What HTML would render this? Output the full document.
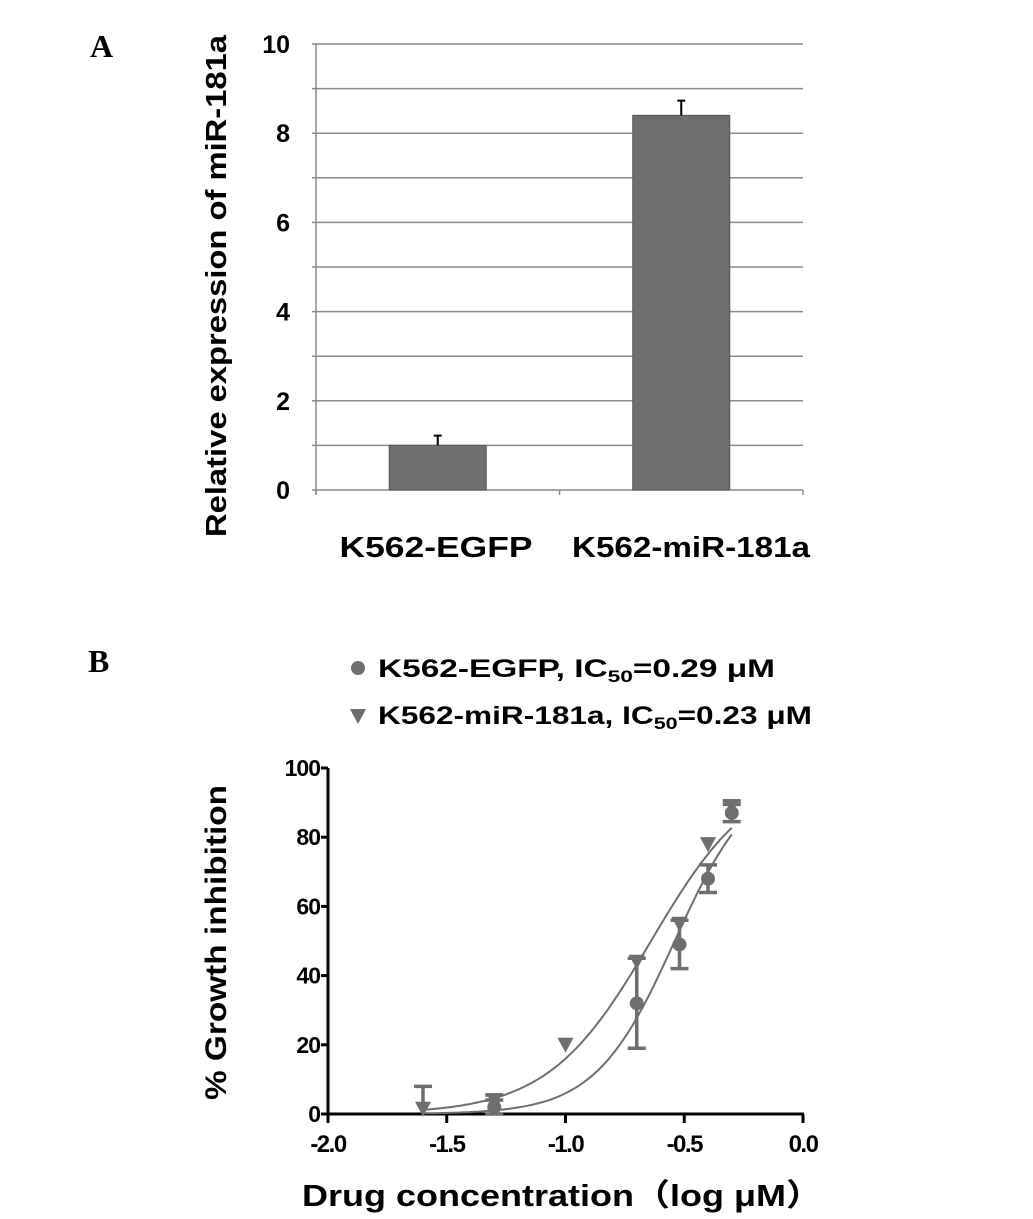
<!DOCTYPE html>
<html><head><meta charset="utf-8"><style>
body{margin:0;background:#fff;}
svg{display:block;font-family:"Liberation Sans",Arial,sans-serif;}
</style></head><body>
<svg id="s" width="1033" height="1219" viewBox="0 0 1033 1219" xmlns="http://www.w3.org/2000/svg">
<text x="90" y="57" font-family="Liberation Serif,serif" font-weight="bold" font-size="32">A</text>
<text x="88" y="672" font-family="Liberation Serif,serif" font-weight="bold" font-size="32">B</text>
<g id="ga"></g>
<g id="gb"></g>
</svg>
<script>
const barCategories=["K562-EGFP","K562-miR-181a"];
const barValues=[1.0,8.4];
const barErrors=[0.22,0.33];
const aTicks=[0,2,4,6,8,10];

const egfpX=[-1.3,-0.7,-0.52,-0.4,-0.3];
const egfpY=[2,32,49,68,87];
const egfpErr=[2,13,7,4,2.5];
const mirX=[-1.6,-1.3,-1.0,-0.7,-0.52,-0.4,-0.3];
const mirY=[1.5,4,20,44,55,78,89];
const mirErr=[6.5,1.5,0,0,0,0,1.5];
const fitLogIC50=[-0.54,-0.64];
const fitHill=[2.6,2.0];
const bXTicks=[-2.0,-1.5,-1.0,-0.5,0.0];
const bYTicks=[0,20,40,60,80,100];

const NS="http://www.w3.org/2000/svg";
function mk(p,t,a){const e=document.createElementNS(NS,t);for(const k in a)e.setAttribute(k,a[k]);p.appendChild(e);return e;}
const gray="#6e6e6e";
const catLen=[193,238];
// ---- Chart A
const ga=document.getElementById('ga');
const ay=v=>490-v*44.6;
const ax0=316,ax1=803;
for(let v=1;v<=10;v++){const l=mk(ga,'line',{x1:312,x2:ax1,y1:ay(v),y2:ay(v),stroke:'#8a8a8a','stroke-width':1.5});

}
let l=mk(ga,'line',{x1:ax0,x2:ax0,y1:ay(10),y2:ay(0)+4,stroke:'#8a8a8a','stroke-width':1.5});

l=mk(ga,'line',{x1:312,x2:ax1,y1:ay(0),y2:ay(0),stroke:'#8a8a8a','stroke-width':1.5});

[ax0,(ax0+ax1)/2+0,ax1].forEach(x=>{const t=mk(ga,'line',{x1:x,x2:x,y1:ay(0),y2:ay(0)+5,stroke:'#8a8a8a','stroke-width':1.5});
});
aTicks.forEach(v=>{const t=mk(ga,'text',{x:290,y:ay(v)+9,'text-anchor':'end','font-size':25,'font-weight':'bold'});t.textContent=v;
});
const bw=97,catW=(ax1-ax0)/barCategories.length;
barCategories.forEach((c,i)=>{const cx=ax0+catW*(i+0.5);
const r=mk(ga,'rect',{x:cx-bw/2,y:ay(barValues[i]),width:bw,height:ay(0)-ay(barValues[i]),fill:gray,stroke:'#555','stroke-width':1});

const e=mk(ga,'path',{d:`M${cx} ${ay(barValues[i])}V${ay(barValues[i]+barErrors[i])}M${cx-4} ${ay(barValues[i]+barErrors[i])}H${cx+4}`,stroke:'#000','stroke-width':2,fill:'none'});

const lx=i?691:436;
const t=mk(ga,'text',{x:lx-catLen[i]/2,y:557,'font-size':29,'font-weight':'bold',textLength:catLen[i],lengthAdjust:'spacingAndGlyphs'});t.textContent=c;
});
let yt=mk(ga,'text',{x:0,y:0,transform:'translate(226,537) rotate(-90)','font-size':29,'font-weight':'bold',textLength:502,lengthAdjust:'spacingAndGlyphs'});
yt.textContent='Relative expression of miR-181a';

// ---- Chart B
const gb=document.getElementById('gb');
const bx=v=>803+v*237.5, by=v=>1114-v*3.46;
l=mk(gb,'line',{x1:bx(-2),x2:bx(-2),y1:by(100),y2:by(0),stroke:'#000','stroke-width':3});

l=mk(gb,'line',{x1:bx(-2),x2:bx(0)+1,y1:by(0),y2:by(0),stroke:'#000','stroke-width':3});

bXTicks.forEach(v=>{const t=mk(gb,'line',{x1:bx(v),x2:bx(v),y1:by(0),y2:by(0)+9,stroke:'#000','stroke-width':3});

const s=mk(gb,'text',{x:bx(v),y:1152,'text-anchor':'middle','font-size':24,'font-weight':'bold','letter-spacing':'-1.5'});s.textContent=v.toFixed(1);
});
bYTicks.forEach(v=>{const t=mk(gb,'line',{x1:bx(-2)-7,x2:bx(-2),y1:by(v),y2:by(v),stroke:'#000','stroke-width':3});

const s=mk(gb,'text',{x:320,y:by(v)+8,'text-anchor':'end','font-size':23,'font-weight':'bold','letter-spacing':'-1'});s.textContent=v;
});
// fits
[0,1].forEach(k=>{let d='';for(let i=0;i<=100;i++){const x=-1.6+i*(1.3/100);const y=100/(1+Math.pow(10,(fitLogIC50[k]-x)*fitHill[k]));d+=(i?'L':'M')+bx(x).toFixed(1)+' '+by(y).toFixed(1);}
const p=mk(gb,'path',{d:d,stroke:gray,'stroke-width':2,fill:'none'});
});
function err(x,y,e,both){if(!e)return;const lo=both?y-e:y;let d=`M${bx(x)} ${by(lo)}V${by(y+e)}M${bx(x)-9} ${by(y+e)}H${bx(x)+9}`;if(both)d+=`M${bx(x)-9} ${by(y-e)}H${bx(x)+9}`;
const p=mk(gb,'path',{d:d,stroke:gray,'stroke-width':3.5,fill:'none'});
}
function tri(cx,cy,n){const p=mk(gb,'path',{d:`M${cx-8} ${cy-7}H${cx+8}L${cx} ${cy+8}Z`,fill:gray});
}
mirX.forEach((x,i)=>{err(x,mirY[i],mirErr[i],false);tri(bx(x),by(mirY[i]),'mir-181a-point');});
egfpX.forEach((x,i)=>{err(x,egfpY[i],egfpErr[i],true);const c=mk(gb,'circle',{cx:bx(x),cy:by(egfpY[i]),r:7,fill:gray});
});
yt=mk(gb,'text',{x:0,y:0,transform:'translate(226,1100) rotate(-90)','font-size':30,'font-weight':'bold',textLength:315,lengthAdjust:'spacingAndGlyphs'});
yt.textContent='% Growth inhibition';

const xt=mk(gb,'text',{x:302,y:1206,'font-size':31,'font-weight':'bold',textLength:520,lengthAdjust:'spacingAndGlyphs'});
xt.innerHTML='Drug concentration<tspan font-family="Noto Sans CJK SC,sans-serif">（</tspan>log μM<tspan font-family="Noto Sans CJK SC,sans-serif">）</tspan>';

// legend
let c=mk(gb,'circle',{cx:358,cy:668,r:7,fill:gray});

let t=mk(gb,'text',{x:378,y:677,'font-size':25,'font-weight':'bold',textLength:397,lengthAdjust:'spacingAndGlyphs'});
t.innerHTML='K562-EGFP, IC<tspan font-size="17" dy="5">50</tspan><tspan dy="-5">=0.29 μM</tspan>';

tri(358,716,'legend-mir-181a-marker');
t=mk(gb,'text',{x:378,y:724,'font-size':25,'font-weight':'bold',textLength:434,lengthAdjust:'spacingAndGlyphs'});
t.innerHTML='K562-miR-181a, IC<tspan font-size="17" dy="5">50</tspan><tspan dy="-5">=0.23 μM</tspan>';

</script>
</body></html>
